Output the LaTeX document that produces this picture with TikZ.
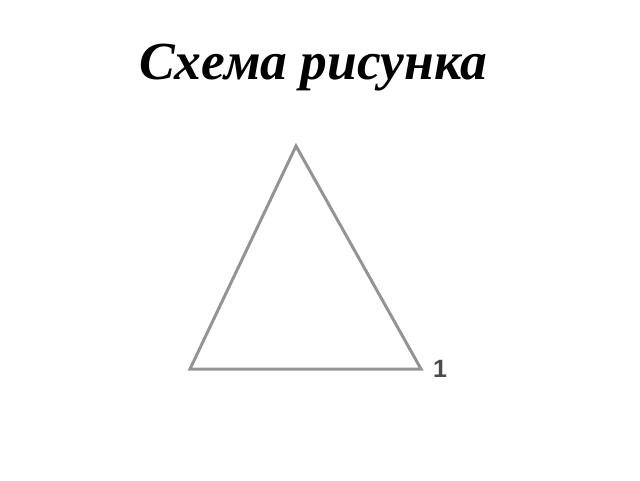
\documentclass[tikz,border=0pt]{standalone}
\usepackage{fontspec}
\setmainfont{Liberation Serif}
\newfontfamily\labfont{Liberation Sans}
\begin{document}
\begin{tikzpicture}[x=1pt,y=-1pt,
  edge/.style={draw=black!42, line width=3pt, line join=miter},
  title/.style={font=\fontsize{53.5}{60}\selectfont\bfseries\itshape, inner sep=0pt},
  lab/.style={font=\labfont\fontsize{25}{28}\selectfont\bfseries, text=black!70, inner sep=0pt}]
\useasboundingbox (0,0) rectangle (640,480);
\node[title] (t) at (313,68) {Схема рисунка};
\coordinate (A) at (296,146);
\coordinate (B) at (190,369);
\coordinate (C) at (421,369);
\draw[edge] (A) -- (B) -- (C) -- cycle;
\node[lab] (one) at (440,369) {1};
\end{tikzpicture}
\end{document}
